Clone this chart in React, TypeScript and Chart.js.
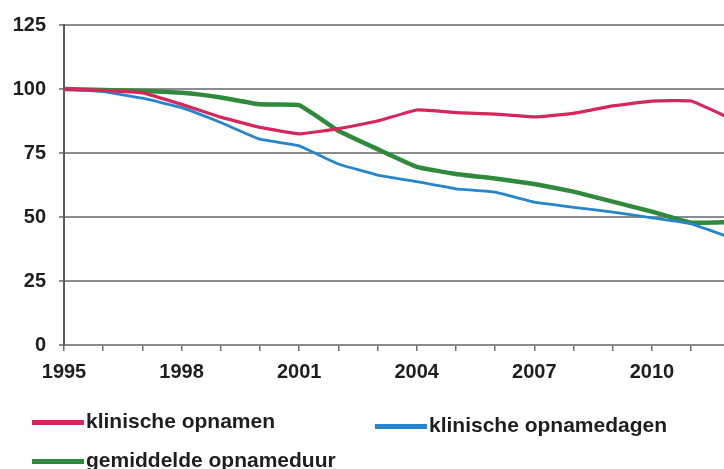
import React, { useEffect, useRef } from "react";
import { Chart, registerables } from "chart.js";

Chart.register(...registerables);

const years = [1995, 1996, 1997, 1998, 1999, 2000, 2001, 2002, 2003, 2004, 2005, 2006, 2007, 2008, 2009, 2010, 2011, 2012];
const klinischeOpnamen = [100, 99.5, 98.5, 94, 89, 85, 82.5, 84.5, 87.5, 91.8, 90.8, 90.2, 89.1, 90.5, 93.4, 95.3, 95.3, 88.5];
const klinischeOpnamedagen = [100, 99, 96.4, 92.7, 86.9, 80.4, 77.8, 70.7, 66.4, 63.8, 61, 59.7, 55.8, 53.8, 51.9, 49.7, 47.3, 42];
const gemiddeldeOpnameduur = [100, 99.6, 99.2, 98.5, 96.7, 94, 93.7, 83.7, 76.5, 69.6, 66.8, 65, 62.9, 59.9, 56, 52.1, 47.8, 48];
const xLabelYears = [1995, 1998, 2001, 2004, 2007, 2010];
const yMin = 0;
const yMax = 125;
const yStep = 25;
const xMin = 1995;
const xMax = 2011.84;

const seriesNames = ["klinische opnamen", "klinische opnamedagen", "gemiddelde opnameduur"];
const seriesColors = ["#d6265b", "#2686cc", "#2f8a3c"];
const seriesWidths = [3.2, 2.8, 4.5];

const FONT = '"Liberation Sans", Arial, Helvetica, sans-serif';

export default function App() {
  const canvasRef = useRef<HTMLCanvasElement | null>(null);

  useEffect(() => {
    const canvas = canvasRef.current;
    if (!canvas) return;
    const seriesData = [klinischeOpnamen, klinischeOpnamedagen, gemiddeldeOpnameduur];
    const chart = new Chart(canvas, {
      type: "line",
      data: {
        datasets: seriesNames.map((name, i) => ({
          label: name,
          data: years.map((yr, j) => ({ x: yr, y: seriesData[i][j] })),
          borderColor: seriesColors[i],
          backgroundColor: seriesColors[i],
          borderWidth: seriesWidths[i],
          pointRadius: 0,
          tension: 0.1,
          fill: false,
        })),
      },
      options: {
        animation: false,
        responsive: true,
        maintainAspectRatio: false,
        layout: { padding: { left: 0, right: 0, top: 23, bottom: 0 } },
        plugins: {
          legend: { display: false },
          tooltip: { enabled: false },
        },
        scales: {
          x: {
            type: "linear",
            min: xMin,
            max: xMax,
            afterFit: (scale: any) => {
              scale.height = 124;
            },
            border: { display: true, color: "#8a8a8a", width: 2 },
            grid: {
              display: true,
              drawOnChartArea: false,
              drawTicks: true,
              tickLength: 6,
              color: "#6f6f6f",
              lineWidth: 1.5,
            },
            ticks: {
              stepSize: 1,
              includeBounds: false,
              autoSkip: false,
              maxRotation: 0,
              padding: 9,
              color: "#1e1e1e",
              font: { family: FONT, size: 20, weight: "bold" },
              callback: (v: any) => {
                const n = Math.round(Number(v));
                return xLabelYears.includes(n) ? String(n) : "";
              },
            },
          },
          y: {
            min: yMin,
            max: yMax,
            afterFit: (scale: any) => {
              scale.width = 64;
            },
            border: { display: true, color: "#5a5a5a", width: 2 },
            grid: {
              color: "#8c8c8c",
              lineWidth: 2,
              drawTicks: true,
              tickLength: 5,
            },
            ticks: {
              stepSize: yStep,
              padding: 13,
              color: "#1e1e1e",
              font: { family: FONT, size: 20, weight: "bold" },
            },
          },
        },
      },
    });
    return () => chart.destroy();
  }, []);

  const legendItems = [
    { name: seriesNames[0], color: seriesColors[0], left: 32, cy: 421 },
    { name: seriesNames[1], color: seriesColors[1], left: 375, cy: 425 },
    { name: seriesNames[2], color: seriesColors[2], left: 32, cy: 460 },
  ];

  return (
    <div
      style={{
        position: "fixed",
        left: 0,
        top: 0,
        width: 724,
        height: 469,
        background: "#ffffff",
        overflow: "hidden",
      }}
    >
      <canvas ref={canvasRef} />
      {legendItems.map((it) => (
        <div
          key={it.name}
          style={{
            position: "absolute",
            left: it.left,
            top: it.cy - 13,
            height: 26,
            display: "flex",
            alignItems: "center",
            fontFamily: FONT,
            fontWeight: "bold",
            fontSize: 21,
            color: "#1e1e1e",
            whiteSpace: "nowrap",
          }}
        >
          <span
            style={{
              display: "inline-block",
              width: 52,
              height: 5,
              background: it.color,
              marginRight: 2,
              marginTop: 2,
            }}
          />
          <span>{it.name}</span>
        </div>
      ))}
    </div>
  );
}
